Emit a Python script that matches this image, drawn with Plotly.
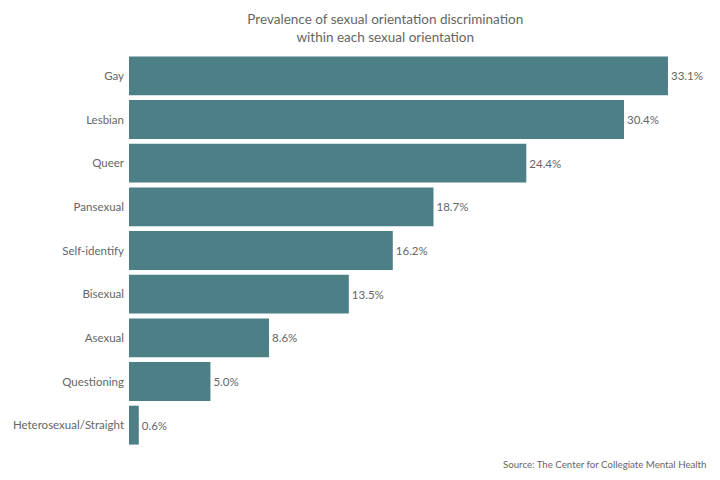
import plotly.graph_objects as go

categories = ["Gay", "Lesbian", "Queer", "Pansexual", "Self-identify",
              "Bisexual", "Asexual", "Questioning", "Heterosexual/Straight"]
values = [33.1, 30.4, 24.4, 18.7, 16.2, 13.5, 8.6, 5.0, 0.6]
labels = [f"{v:.1f}%" for v in values]

BAR = "#4d7f87"
GREY = "#666666"

fig = go.Figure(go.Bar(
    x=values, y=categories, orientation="h",
    marker=dict(color=BAR, line=dict(width=0)),
    text=labels, textposition="outside",
    textfont=dict(family="Lato", size=11.5, color=GREY),
    cliponaxis=False,
))

# the page puts the figure 8px in from the top-left, margins allow for that
fig.update_layout(
    width=720, height=480,
    margin=dict(l=121, r=40, t=46, b=41, autoexpand=False),
    paper_bgcolor="white", plot_bgcolor="white",
    bargap=0.11,
    showlegend=False,
    font=dict(family="Lato", color=GREY),
    title=dict(
        text="Prevalence of sexual orientation discrimination<br>within each sexual orientation",
        x=0.524, xanchor="center", y=0.966, yanchor="middle",
        font=dict(family="Lato", size=13.5, color=GREY),
        automargin=False,
    ),
    xaxis=dict(range=[0, 34.33], visible=False, showgrid=False, zeroline=False),
    yaxis=dict(autorange="reversed", showgrid=False, zeroline=False,
               ticks="", ticklabelstandoff=4, automargin=False,
               tickfont=dict(family="Lato", size=11.5, color=GREY)),
    annotations=[dict(
        text="Source: The Center for Collegiate Mental Health",
        xref="paper", yref="paper", x=1.036, y=-0.042,
        xanchor="right", yanchor="middle", showarrow=False,
        font=dict(family="Lato", size=9.7, color=GREY),
    )],
)

fig.write_html("out.html")
